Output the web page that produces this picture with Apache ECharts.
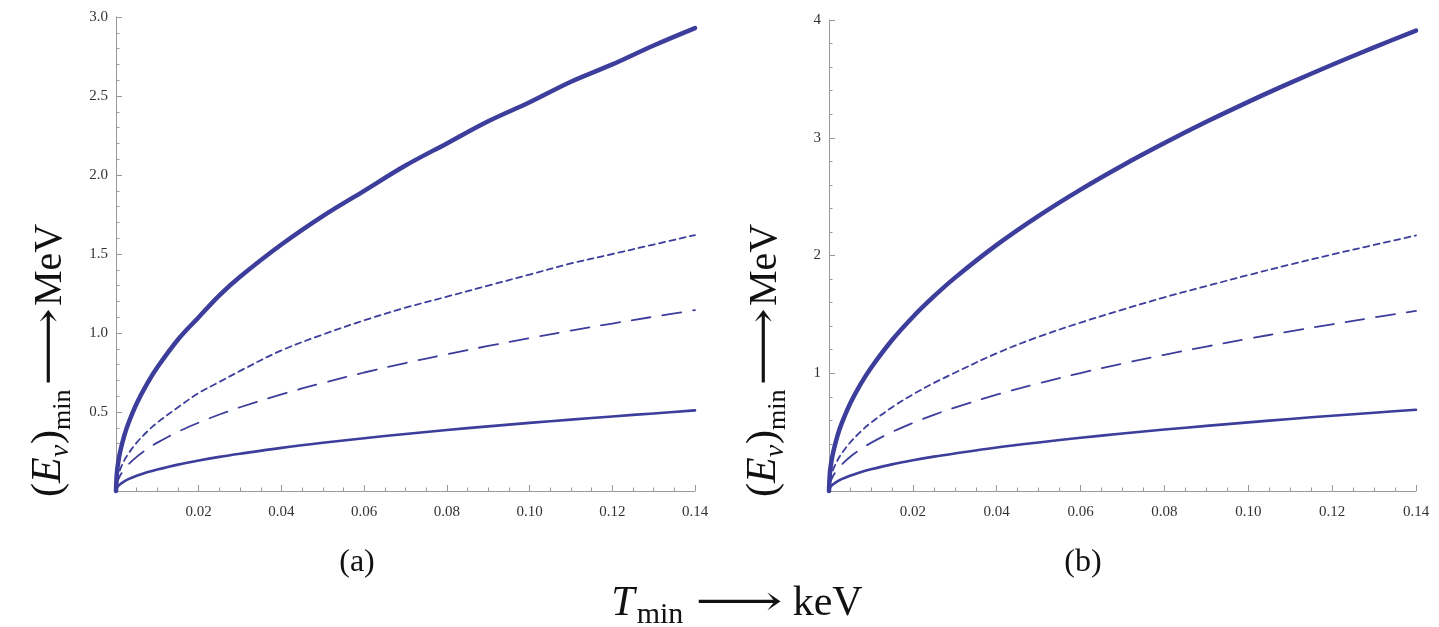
<!DOCTYPE html>
<html>
<head>
<meta charset="utf-8">
<script src="https://cdn.jsdelivr.net/npm/echarts@6/dist/echarts.min.js"></script>
<style>
  html, body { margin: 0; padding: 0; background: #fff; }
  #chart { width: 1439px; height: 627px; }
</style>
</head>
<body>
<div id="chart"></div>
<script>
// Recoil threshold T_min (keV) sampled along the x axis
const tMin = [0, 0.0002, 0.0005, 0.001, 0.002, 0.003, 0.005, 0.0075, 0.01, 0.015, 0.02, 0.025,
              0.03, 0.04, 0.05, 0.06, 0.07, 0.08, 0.09, 0.10, 0.11, 0.12, 0.13, 0.14];

// Panel (a): minimum neutrino energy (MeV)
const aThick  = [0, 0.11, 0.175, 0.248, 0.35, 0.429, 0.554, 0.678, 0.783, 0.959, 1.10, 1.238,
                 1.356, 1.56, 1.74, 1.90, 2.06, 2.20, 2.34, 2.46, 2.59, 2.70, 2.82, 2.93];
const aDotted = [0, 0.061, 0.097, 0.137, 0.194, 0.237, 0.306, 0.375, 0.433, 0.53, 0.62, 0.69,
                 0.76, 0.89, 0.99, 1.08, 1.16, 1.23, 1.30, 1.37, 1.44, 1.50, 1.56, 1.62];
const aDashed = [0, 0.043, 0.068, 0.097, 0.137, 0.168, 0.216, 0.265, 0.306, 0.375, 0.433, 0.484,
                 0.53, 0.612, 0.684, 0.75, 0.81, 0.866, 0.918, 0.968, 1.015, 1.06, 1.103, 1.145];
const aThin   = [0, 0.019, 0.03, 0.043, 0.061, 0.075, 0.096, 0.118, 0.136, 0.167, 0.193, 0.216,
                 0.236, 0.273, 0.305, 0.334, 0.361, 0.386, 0.409, 0.431, 0.452, 0.472, 0.491, 0.51];

// Panel (b): minimum neutrino energy (MeV)
const bThick  = [0, 0.148, 0.234, 0.33, 0.467, 0.572, 0.739, 0.905, 1.045, 1.28, 1.478, 1.652,
                 1.81, 2.09, 2.337, 2.56, 2.765, 2.955, 3.135, 3.305, 3.466, 3.62, 3.768, 3.91];
const bDotted = [0, 0.082, 0.13, 0.183, 0.259, 0.318, 0.41, 0.502, 0.58, 0.71, 0.82, 0.917,
                 1.004, 1.17, 1.31, 1.43, 1.54, 1.645, 1.74, 1.834, 1.923, 2.009, 2.09, 2.17];
const bDashed = [0, 0.058, 0.091, 0.129, 0.183, 0.224, 0.289, 0.354, 0.409, 0.501, 0.578, 0.647,
                 0.708, 0.818, 0.914, 1.002, 1.082, 1.157, 1.227, 1.293, 1.356, 1.416, 1.474, 1.53];
const bThin   = [0, 0.026, 0.041, 0.058, 0.082, 0.101, 0.13, 0.16, 0.184, 0.226, 0.261, 0.292,
                 0.319, 0.369, 0.412, 0.452, 0.488, 0.522, 0.553, 0.583, 0.612, 0.639, 0.665, 0.69];

// Tick settings
const xTicks = { min: 0, max: 0.14, interval: 0.02 };
const yTicksA = { min: 0, max: 3.0, interval: 0.5 };
const yTicksB = { min: 0, max: 4, interval: 1 };
const panelLabels = ['(a)', '(b)'];

const LINE = '#3d3d9c';
const AXIS = '#9a9a9a';
const SERIF = '"Liberation Serif", "DejaVu Serif", serif';

const pair = (ys) => tMin.map((t, i) => [t, ys[i]]);

function xAxisFor(gridIndex) {
  return {
    type: 'value', gridIndex, min: xTicks.min, max: xTicks.max, interval: xTicks.interval,
    axisLine: { show: true, onZero: false, lineStyle: { color: AXIS, width: 1 } },
    axisTick: { show: true, inside: true, length: 6, lineStyle: { color: AXIS } },
    minorTick: { show: true, splitNumber: 4, length: 3.5, lineStyle: { color: AXIS } },
    splitLine: { show: false },
    axisLabel: {
      margin: 14, color: '#333', fontFamily: SERIF, fontSize: 15,
      formatter: (v) => (v === 0 ? '' : v.toFixed(2))
    }
  };
}

function yAxisFor(gridIndex, t, digits, split) {
  return {
    type: 'value', gridIndex, min: t.min, max: t.max, interval: t.interval,
    axisLine: { show: true, onZero: false, lineStyle: { color: AXIS, width: 1 } },
    axisTick: { show: true, inside: true, length: 6, lineStyle: { color: AXIS } },
    minorTick: { show: true, splitNumber: split, length: 3.5, lineStyle: { color: AXIS } },
    splitLine: { show: false },
    axisLabel: {
      margin: 8, color: '#333', fontFamily: SERIF, fontSize: 15,
      formatter: (v) => (v === 0 ? '' : v.toFixed(digits))
    }
  };
}

function curve(name, ys, idx, width, type) {
  return {
    name, type: 'line', xAxisIndex: idx, yAxisIndex: idx, data: pair(ys),
    showSymbol: false, smooth: 0.35, clip: false,
    lineStyle: { color: LINE, width, type, cap: 'round' }
  };
}

// Math-style labels built from separately styled runs of text, laid on a common baseline
const measureCtx = document.createElement('canvas').getContext('2d');
function mathRow(runs) {
  let x = 0;
  const children = [];
  runs.forEach((r) => {
    const font = (r.italic ? 'italic ' : '') + r.size + 'px ' + SERIF;
    const sx = r.sx || 1;
    measureCtx.font = font;
    const w = measureCtx.measureText(r.text).width * sx;
    x += r.pre || 0;
    children.push({
      type: 'text', x, y: (r.dy || 0) - 0.3 * r.size, scaleX: sx,
      style: { text: r.text, font, fill: '#111', verticalAlign: 'middle', align: 'left' }
    });
    x += w + (r.gap || 0);
  });
  return { children, width: x };
}

const yTitleRuns = [
  { text: '(', size: 42 },
  { text: 'E', size: 42, italic: true },
  { text: 'ν', size: 28, italic: true, dy: 7 },
  { text: ')', size: 42, pre: 1 },
  { text: 'min', size: 26, dy: 9, gap: 4 },
  { text: '⟶', size: 40, sx: 1.35, gap: 2 },
  { text: 'MeV', size: 40 }
];
const xTitleRuns = [
  { text: 'T', size: 42, italic: true, gap: 2 },
  { text: 'min', size: 30, dy: 7, gap: 12 },
  { text: '⟶', size: 42, sx: 1.45, gap: 10 },
  { text: 'keV', size: 42 }
];

function yTitle(baseX, bottomY) {
  const row = mathRow(yTitleRuns);
  return { type: 'group', x: baseX, y: bottomY, rotation: Math.PI / 2, children: row.children };
}
function xTitle(centerX, baseY) {
  const row = mathRow(xTitleRuns);
  return { type: 'group', x: centerX - row.width / 2, y: baseY, children: row.children };
}

const chart = echarts.init(document.getElementById('chart'), null, { renderer: 'canvas' });

chart.setOption({
  animation: false,
  backgroundColor: '#fff',
  grid: [
    { left: 116, top: 17, width: 579, height: 474 },
    { left: 829, top: 20, width: 587, height: 471 }
  ],
  xAxis: [xAxisFor(0), xAxisFor(1)],
  yAxis: [yAxisFor(0, yTicksA, 1, 5), yAxisFor(1, yTicksB, 0, 5)],
  series: [
    curve('a-thick', aThick, 0, 4.5, 'solid'),
    curve('a-dotted', aDotted, 0, 1.8, [6, 4.5]),
    curve('a-dashed', aDashed, 0, 1.8, [19, 12]),
    curve('a-thin', aThin, 0, 2.6, 'solid'),
    curve('b-thick', bThick, 1, 4.5, 'solid'),
    curve('b-dotted', bDotted, 1, 1.8, [6, 4.5]),
    curve('b-dashed', bDashed, 1, 1.8, [19, 12]),
    curve('b-thin', bThin, 1, 2.6, 'solid')
  ],
  graphic: [
    yTitle(62, 497),
    yTitle(777, 497),
    xTitle(737, 617),
    {
      type: 'text', x: 357, y: 563,
      style: { text: panelLabels[0], font: '32px ' + SERIF, fill: '#111', align: 'center', verticalAlign: 'middle' }
    },
    {
      type: 'text', x: 1083, y: 563,
      style: { text: panelLabels[1], font: '32px ' + SERIF, fill: '#111', align: 'center', verticalAlign: 'middle' }
    }
  ]
});
</script>
</body>
</html>
